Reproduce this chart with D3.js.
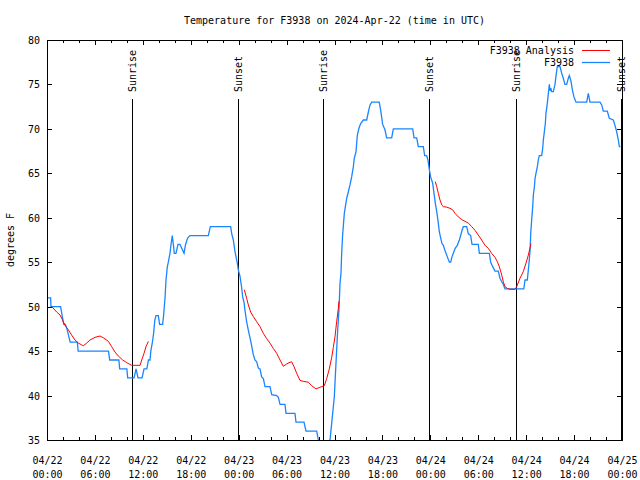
<!DOCTYPE html>
<html>
<head>
<meta charset="utf-8">
<script src="https://cdn.jsdelivr.net/npm/d3@7"></script>
<style>
  html, body { margin: 0; padding: 0; background: #fff; }
  svg { display: block; }
  text { font-family: "DejaVu Sans Mono", "Liberation Mono", monospace; font-size: 10px; fill: #000; }
</style>
</head>
<body>
<svg id="chart" width="640" height="480"></svg>
<script>
// ---------------- DATA (hours since 2024-04-22 00:00 UTC) ----------------
const titleText = "Temperature for F3938 on 2024-Apr-22 (time in UTC)";
const yLabel = "degrees F";
const seriesNames = ["F3938 Analysis", "F3938"];
const seriesColors = ["#ff0000", "#1a85ff"];

const yTicks = [35, 40, 45, 50, 55, 60, 65, 70, 75, 80];
const xTickHours = [0, 6, 12, 18, 24, 30, 36, 42, 48, 54, 60, 66, 72];

const sunLabels = ["Sunrise", "Sunset", "Sunrise", "Sunset", "Sunrise", "Sunset"];
const sunHours  = [10.68, 23.88, 34.6, 47.87, 58.69, 71.9];

// Observations (F3938)
const obsHours = [0,0.45,0.5,1.7,1.9,2.1,2.3,2.5,2.9,3.8,3.9,7.7,7.85,9.0,9.1,10.0,10.1,10.9,11.15,11.4,11.9,12.15,12.5,12.7,12.9,13.0,13.2,13.35,13.5,13.65,13.94,14.1,14.48,14.6,14.78,14.9,15.07,15.19,15.4,15.53,15.69,15.82,15.94,16.15,16.4,16.65,17.16,17.35,17.6,17.9,20.2,20.45,23.0,
  23.12,23.33,23.54,23.83,23.96,24.17,24.38,24.5,24.67,24.79,25.0,25.2,25.42,25.63,25.83,26.04,26.26,26.46,26.67,26.88,27.09,27.3,27.92,28.14,28.76,28.97,29.18,29.8,29.93,31.05,31.18,32.18,32.43,33.77,33.98,34.2,35.2,
  35.44,35.65,35.98,36.1,36.27,36.4,36.56,36.69,36.81,36.9,37.02,37.15,37.23,37.36,37.53,37.73,37.94,38.15,38.36,38.48,38.69,38.86,39.07,39.28,39.61,40.03,40.24,40.45,40.66,41.6,41.8,42.03,42.32,42.53,43.16,43.37,45.79,45.96,46.29,46.5,47.12,
  47.29,47.54,47.7,47.78,47.88,48.04,48.29,48.46,48.63,48.8,49.0,49.13,49.3,49.46,49.63,49.8,49.96,50.13,50.38,50.55,50.71,50.88,51.13,51.38,51.63,51.8,51.97,52.13,52.55,52.76,53.05,53.22,54.0,54.14,55.39,55.56,55.81,56.1,56.51,56.72,56.94,57.14,57.35,59.7,
  59.86,60.14,60.27,60.39,60.5,60.57,60.69,60.82,60.9,61.03,61.11,61.23,61.4,61.52,61.65,61.94,62.07,62.15,62.28,62.4,62.48,62.65,62.78,62.9,62.99,63.11,63.2,63.4,63.61,63.74,63.9,64.24,64.45,64.65,64.86,65.07,65.28,65.4,65.58,65.83,65.99,66.24,67.58,67.78,67.99,69.25,69.46,69.66,70.16,70.41,70.91,71.12,71.33,71.54,71.67,71.8];
const obsTemps = [51,51,50,50,49,48,48,47.5,46,46,45,45,44,44,43,43,42,42,43,42,42,43,43,44,44,45,46,47,48.5,49,49,48,48,49,51,53,54.5,55,56,57,58,57,56,56,57,57,56,57,57.7,58,58,59,59,
  58.25,57.5,56.2,54.9,54.1,53.4,52.1,51.1,50.5,49.6,48.3,47.4,46.5,45.6,44.6,44,43.8,43.1,43,42.1,41.9,41,41,40.1,40,39.8,39,39,38,38,37,37,36,36,35,34,34,
  35,36.9,39.9,42.1,45.1,47.4,49.6,52.6,53.75,56,58.1,59.6,60.5,61.25,62.2,62.9,63.7,64.6,65.75,66.7,67.4,69.3,70.1,70.6,71,71,71.9,72.7,73,73,72,70.5,69.9,69,69,70,70,69,69,68,68,
  67,67,66.5,66,65.4,64.6,63.9,62.75,61.6,60.7,59.4,58.4,57.7,57.1,56.9,56.4,56,55.6,55,55,55.6,56,56.6,56.9,57.5,58,58.6,59,59,58.2,58,57,57,56,56,55,54.5,54,54,53.2,52.8,52.5,52,52,
  53,53,54.1,55.25,56.5,58.25,59.75,61.25,62.56,63.5,64.4,65,65.75,66.5,67,67,67.8,68.75,69.7,70.6,71.75,72.9,74,75,74.4,74.5,74.2,74.2,75,76,77,77,76.25,75.7,75,75,75.7,76,75.5,74.2,73.6,73,73,74,73,73,72.7,72,72,71.2,71,70.4,69.7,68.75,68,68];

// Analysis (F3938 Analysis); null separates segments
const anaHours = [0.5,1.21,1.63,1.84,2.25,2.67,3.09,3.51,3.92,4.34,4.55,4.97,5.38,6.01,6.64,7.05,7.68,8.1,8.51,8.93,9.48,9.98,10.6,11.65,11.86,12.15,12.4,12.69,
  13.0,
  24.71,25.0,25.21,25.5,25.83,26.26,26.67,27.09,27.51,27.92,28.34,28.76,29.18,29.59,30.01,30.3,30.64,30.93,31.27,31.68,32.1,32.72,33.15,33.68,33.97,34.4,34.72,35.02,35.35,35.65,35.85,36.06,36.27,36.48,36.55,
  37.0,
  48.62,48.8,49.0,49.21,49.46,49.63,50.05,50.46,50.8,51.09,51.5,51.93,52.34,52.76,53.18,53.59,54.0,54.43,54.85,55.26,55.68,56.1,56.39,56.64,56.94,57.14,57.35,57.64,57.98,58.6,58.81,59.23,59.64,59.98,60.27,60.61];
const anaTemps = [50.1,49.4,49.06,48.7,47.9,47.4,46.8,46.25,45.9,45.7,45.6,45.9,46.25,46.55,46.7,46.5,46.1,45.5,44.9,44.45,44,43.7,43.4,43.4,44,44.75,45.5,46.1,
  null,
  51.9,50.94,50.2,49.4,48.9,48.3,47.75,47,46.4,45.9,45.3,44.75,44,43.3,43.55,43.7,43.8,43.25,42.5,41.7,41.6,41.5,41.1,40.75,40.86,41.0,41.1,41.9,43,44.3,45.4,46.6,48.3,49.8,50.6,
  null,
  64.06,63.5,62.75,62,61.4,61.25,61.2,61.06,60.9,60.5,60.1,59.8,59.6,59.4,59,58.6,58.06,57.5,56.9,56.56,56,55.55,55.06,54.5,53.56,52.8,52.25,52.06,51.95,51.95,52.25,53.2,53.94,54.9,55.8,57.1];

// ---------------- CHART ----------------
const W = 640, H = 480;
const m = { left: 47, right: 18, top: 40, bottom: 40 };
const pw = W - m.left - m.right, ph = H - m.top - m.bottom;
const t0 = Date.UTC(2024, 3, 22, 0, 0, 0);
const toDate = h => new Date(t0 + h * 3600000);

const x = d3.scaleUtc().domain([toDate(0), toDate(72)]).range([m.left, m.left + pw]);
const y = d3.scaleLinear().domain([35, 80]).range([m.top + ph, m.top]);

const svg = d3.select("#chart");
svg.append("rect").attr("width", W).attr("height", H).attr("fill", "#fff");

svg.append("defs").append("clipPath").attr("id", "clip")
  .append("rect").attr("x", m.left).attr("y", m.top).attr("width", pw).attr("height", ph);

// Title (centred over plot area)
svg.append("text").attr("x", m.left + pw / 2).attr("y", 24).attr("text-anchor", "middle").text(titleText);

// Y label
svg.append("text").attr("transform", "translate(14,240) rotate(-90)")
  .attr("text-anchor", "middle").text(yLabel);

// Axes via d3.axis
const fmtDay = d3.utcFormat("%m/%d"), fmtTime = d3.utcFormat("%H:%M");
const xMajor = xTickHours.map(toDate);
const xMinorHours = d3.range(0, 73, 2).filter(h => h % 6 !== 0);

const gx = svg.append("g").attr("transform", `translate(0,${m.top + ph})`)
  .call(d3.axisBottom(x).tickValues(xMajor).tickSize(0).tickPadding(0).tickFormat(""));
gx.select(".domain").remove();
gx.selectAll(".tick").each(function(d) {
  const g = d3.select(this);
  g.append("text").attr("y", 24).attr("text-anchor", "middle").text(fmtDay(d));
  g.append("text").attr("y", 38).attr("text-anchor", "middle").text(fmtTime(d));
});

const gy = svg.append("g").attr("transform", `translate(${m.left},0)`)
  .call(d3.axisLeft(y).tickValues(yTicks).tickSize(0).tickPadding(7).tickFormat(d3.format("d")));
gy.select(".domain").remove();
gy.selectAll("text").attr("font-family", null).attr("font-size", null).attr("dy", "0.35em");

// Tick marks (inward, mirrored)
const tg = svg.append("g").attr("stroke", "#000").attr("stroke-width", 1).attr("shape-rendering", "crispEdges");
xTickHours.forEach(h => {
  const px = Math.round(x(toDate(h))) + 0.5;
  tg.append("line").attr("x1", px).attr("x2", px).attr("y1", m.top + ph).attr("y2", m.top + ph - 5);
  tg.append("line").attr("x1", px).attr("x2", px).attr("y1", m.top).attr("y2", m.top + 5);
});
xMinorHours.forEach(h => {
  const px = Math.round(x(toDate(h))) + 0.5;
  tg.append("line").attr("x1", px).attr("x2", px).attr("y1", m.top + ph).attr("y2", m.top + ph - 3);
  tg.append("line").attr("x1", px).attr("x2", px).attr("y1", m.top).attr("y2", m.top + 3);
});
yTicks.forEach(v => {
  const py = Math.round(y(v)) + 0.5;
  tg.append("line").attr("x1", m.left).attr("x2", m.left + 5).attr("y1", py).attr("y2", py);
  tg.append("line").attr("x1", m.left + pw).attr("x2", m.left + pw - 5).attr("y1", py).attr("y2", py);
});

// Sunrise / sunset lines
sunHours.forEach((h, i) => {
  const px = Math.round(x(toDate(h))) + 0.5;
  svg.append("line").attr("x1", px).attr("x2", px).attr("y1", 99).attr("y2", m.top + ph)
    .attr("stroke", "#000").attr("stroke-width", 1).attr("shape-rendering", "crispEdges");
  svg.append("text").attr("transform", `translate(${px + 3.5},92) rotate(-90)`)
    .attr("text-anchor", "start").text(sunLabels[i]);
});

// Lines
const plot = svg.append("g").attr("clip-path", "url(#clip)");
const obsData = obsHours.map((h, i) => ({ t: toDate(h), v: obsTemps[i] }));
const anaData = anaHours.map((h, i) => ({ t: toDate(h), v: anaTemps[i] }));
const line = d3.line().defined(d => d.v !== null).x(d => x(d.t)).y(d => y(d.v));

plot.append("path").datum(obsData).attr("d", line)
  .attr("fill", "none").attr("stroke", seriesColors[1]).attr("stroke-width", 1.3);
plot.append("path").datum(anaData).attr("d", line)
  .attr("fill", "none").attr("stroke", seriesColors[0]).attr("stroke-width", 1);

// Border
svg.append("rect").attr("x", m.left + 0.5).attr("y", m.top + 0.5).attr("width", pw).attr("height", ph)
  .attr("fill", "none").attr("stroke", "#000").attr("stroke-width", 1).attr("shape-rendering", "crispEdges");

// Legend
const lg = svg.append("g");
seriesNames.forEach((name, i) => {
  const ly = 50 + i * 12;
  lg.append("text").attr("x", 574).attr("y", ly).attr("dy", "0.35em").attr("text-anchor", "end").text(name);
  lg.append("line").attr("x1", 582).attr("x2", 610).attr("y1", ly + 0.5).attr("y2", ly + 0.5)
    .attr("stroke", seriesColors[i]).attr("stroke-width", i === 1 ? 1.3 : 1);
});
</script>
</body>
</html>
